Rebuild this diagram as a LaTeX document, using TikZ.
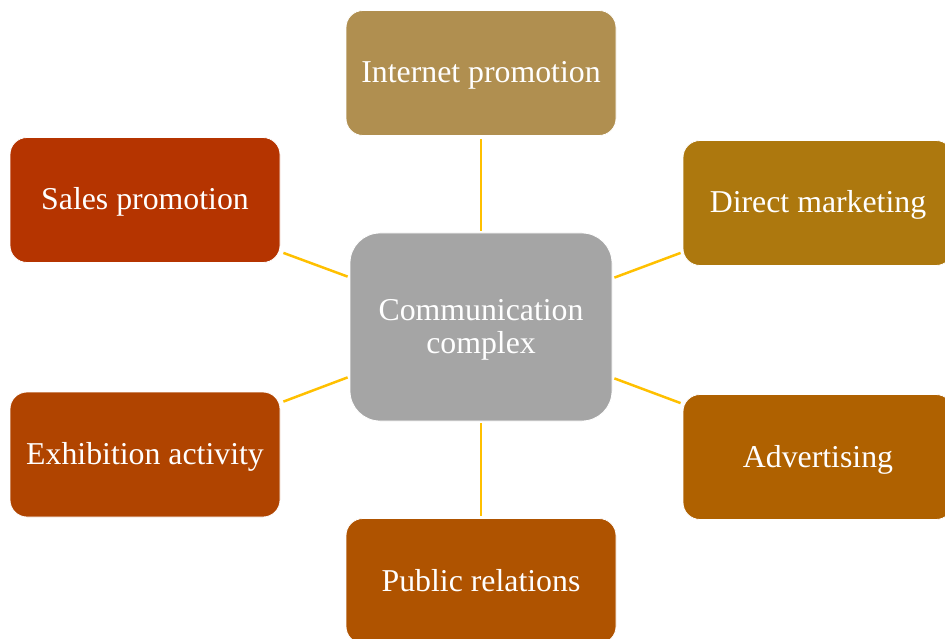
\documentclass[tikz,border=0pt]{standalone}
\usepackage{fontspec}
\usetikzlibrary{calc}
\setmainfont{Liberation Serif}
\definecolor{cInt}{HTML}{B08F50}
\definecolor{cSal}{HTML}{B53400}
\definecolor{cDir}{HTML}{AD780E}
\definecolor{cExh}{HTML}{B04400}
\definecolor{cAdv}{HTML}{AF6100}
\definecolor{cPub}{HTML}{AF5300}
\definecolor{cCen}{HTML}{A5A5A5}
\definecolor{cLink}{HTML}{FFC000}
\begin{document}
\begin{tikzpicture}[x=1pt,y=-1pt,
  box/.style={rectangle, rounded corners=17pt, draw=white, line width=0.8pt,
    minimum width=270pt, minimum height=125pt, inner sep=0pt,
    text=white, font=\fontsize{31.8}{33}\selectfont, align=center},
  oneline/.style={box, text height=25pt, text depth=5pt},
  link/.style={draw=cLink, line width=2.5pt}]
\useasboundingbox (0,0) rectangle (945,639);
\clip (0,0) rectangle (945,639);
\node[box, fill=cCen, minimum width=262pt, minimum height=188pt, rounded corners=30pt] (cen) at (481,327)
  {\raisebox{0pt}[26pt][0pt]{Communication}\\\raisebox{0pt}[0pt][7pt]{complex}};
\node[oneline, fill=cInt] (int) at (481,73) {Internet promotion};
\node[oneline, fill=cSal] (sal) at (145,200) {Sales promotion};
\node[oneline, fill=cDir] (dir) at (818,203) {Direct marketing};
\node[oneline, fill=cExh] (exh) at (145,454.5) {Exhibition activity};
\node[oneline, fill=cAdv] (adv) at (818,457) {Advertising};
\node[oneline, fill=cPub] (pub) at (481,581) {Public relations};
\coordinate (i1) at ($(int.south)+(0,3)$);
\coordinate (i2) at ($(cen.north)+(0,-2)$);
\draw[link] (i1) -- (i2);
\coordinate (p1) at ($(pub.north)+(0,-2)$);
\coordinate (p2) at ($(cen.south)+(0,2)$);
\draw[link] (p2) -- (p1);
\coordinate (s1) at ($(sal.south east)+(3,-10)$);
\coordinate (s2) at ($(cen.north west)+(-2,44)$);
\draw[link] (s1) -- (s2);
\coordinate (e1) at ($(exh.north east)+(3,10)$);
\coordinate (e2) at ($(cen.south west)+(-2,-44)$);
\draw[link] (e1) -- (e2);
\coordinate (d1) at ($(dir.south west)+(-2,-13)$);
\coordinate (d2) at ($(cen.north east)+(2,45)$);
\draw[link] (d2) -- (d1);
\coordinate (a1) at ($(adv.north west)+(-2,9)$);
\coordinate (a2) at ($(cen.south east)+(2,-43)$);
\draw[link] (a2) -- (a1);
\end{tikzpicture}
\end{document}
